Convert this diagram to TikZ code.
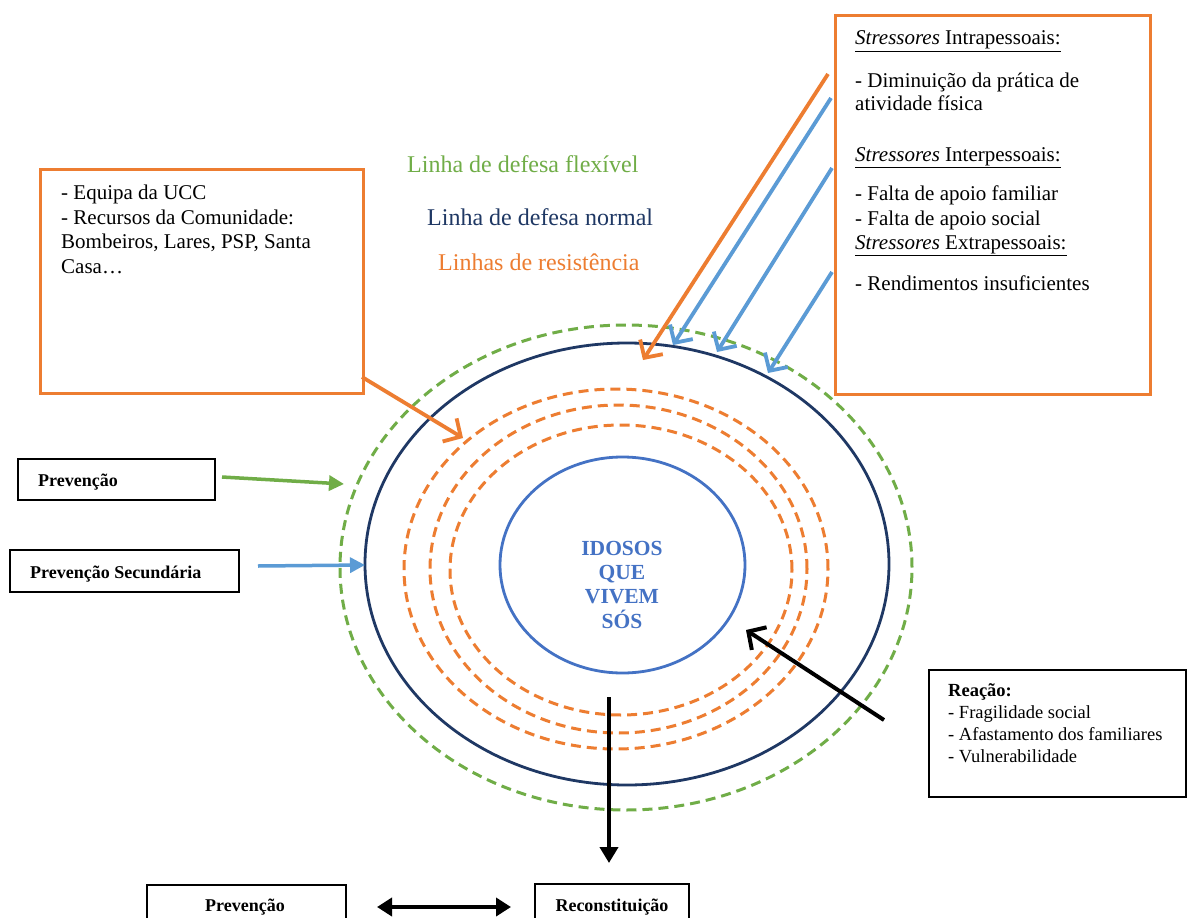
\documentclass[tikz,border=0pt]{standalone}
\usepackage{fontspec}
\setmainfont{Liberation Serif}
\usetikzlibrary{arrows.meta}
\definecolor{cgreen}{HTML}{70AD47}
\definecolor{cnavy}{HTML}{1F3864}
\definecolor{corange}{HTML}{ED7D31}
\definecolor{cblue}{HTML}{5B9BD5}
\definecolor{cinner}{HTML}{4472C4}
\tikzset{
  txt/.style={inner sep=0pt, anchor=base west, font=\fontsize{21}{24}\selectfont},
  head/.style={inner sep=0pt, anchor=base west, font=\fontsize{24}{28}\selectfont},
  lbl/.style={inner sep=0pt, anchor=base west, font=\fontsize{18}{21}\selectfont\bfseries},
  rea/.style={inner sep=0pt, anchor=base west, font=\fontsize{18.5}{21}\selectfont},
  core/.style={inner sep=0pt, anchor=base, text=cinner, font=\fontsize{21.5}{24}\selectfont\bfseries},
  obox/.style={draw=corange, line width=3pt, inner sep=0pt, anchor=north west},
  kbox/.style={draw=black, line width=1.6pt, inner sep=0pt, anchor=north west},
  ring/.style={line width=3pt, dash pattern=on 10pt off 6pt},
  barb/.style={line width=3.8pt, -{Straight Barb[length=13pt,width=27pt]}},
  tri/.style={line width=3.5pt, -{Triangle[length=15pt,width=15pt]}},
}
\begin{document}
\begin{tikzpicture}[x=1pt,y=-1pt]
\clip (0,0) rectangle (1187,918);
\useasboundingbox (0,0) rectangle (1187,918);
\fill[white] (0,0) rectangle (1187,918);

% rings
\draw[ring, cgreen] (626,567.5) ellipse [x radius=286pt, y radius=242.5pt];
\draw[line width=2.8pt, cnavy] (627,564) ellipse [x radius=262pt, y radius=221pt];
\draw[ring, corange] (616,569) ellipse [x radius=212pt, y radius=180pt];
\draw[ring, corange] (618.5,569) ellipse [x radius=188.5pt, y radius=164pt];
\draw[ring, corange] (621,570) ellipse [x radius=171pt, y radius=145pt];
\draw[line width=2.8pt, cinner] (622.5,565) ellipse [x radius=122.5pt, y radius=108pt];

% core text
\node[core] (c1) at (622,555) {IDOSOS};
\node[core] (c2) at (622,579) {QUE};
\node[core] (c3) at (622,603) {VIVEM};
\node[core] (c4) at (622,628) {SÓS};

% headings
\node[head, text=cgreen] (h1) at (407,172) {Linha de defesa flexível};
\node[head, text=cnavy] (h2) at (427,225) {Linha de defesa normal};
\node[head, text=corange] (h3) at (438,270) {Linhas de resistência};

% right stressor box
\node[obox, minimum width=315pt, minimum height=379pt] (rbox) at (834,14) {};
\node[txt] (r1) at (855,45) {\underline{\textit{Stressores} Intrapessoais:}};
\node[txt] (r2) at (855,87) {- Diminuição da prática de};
\node[txt] (r3) at (855,110) {atividade física};
\node[txt] (r4) at (855,161) {\underline{\textit{Stressores} Interpessoais:}};
\node[txt] (r5) at (855,200) {- Falta de apoio familiar};
\node[txt] (r6) at (855,225) {- Falta de apoio social};
\node[txt] (r7) at (855,249) {\underline{\textit{Stressores} Extrapessoais:}};
\node[txt] (r8) at (855,290) {- Rendimentos insuficientes};

% left resources box
\node[obox, minimum width=323pt, minimum height=224pt] (lbox) at (39,168) {};
\node[txt] (l1) at (61,199) {- Equipa da UCC};
\node[txt] (l2) at (61,224) {- Recursos da Comunidade:};
\node[txt] (l3) at (61,248) {Bombeiros, Lares, PSP, Santa};
\node[txt] (l4) at (61,273) {Casa…};

% prevention boxes
\node[kbox, minimum width=197pt, minimum height=41pt] (p1box) at (17,458) {};
\node[lbl] (p1) at (38,486) {Prevenção};
\node[kbox, minimum width=229pt, minimum height=42pt] (p2box) at (9,549) {};
\node[lbl] (p2) at (30,578) {Prevenção Secundária};

% reaction box
\node[kbox, minimum width=257pt, minimum height=127pt] (reabox) at (928,669) {};
\node[rea, font=\fontsize{18.5}{21}\selectfont\bfseries] (ra) at (948,696) {Reação:};
\node[rea] (rb) at (948,718) {- Fragilidade social};
\node[rea] (rc) at (948,740) {- Afastamento dos familiares};
\node[rea] (rd) at (948,762) {- Vulnerabilidade};

% bottom boxes
\node[kbox, minimum width=199pt, minimum height=50pt] (pbbox) at (146,884) {};
\node[lbl, anchor=base] (pb) at (245,911) {Prevenção};
\node[kbox, minimum width=154pt, minimum height=50pt] (rcbox) at (534,883) {};
\node[lbl, anchor=base] (rcn) at (612,911) {Reconstituição};

% arrow coordinates
\coordinate (oS) at (828,74);   \coordinate (oE) at (643,360);
\coordinate (b1S) at (831,98);  \coordinate (b1E) at (673,345);
\coordinate (b2S) at (832,168); \coordinate (b2E) at (717,352);
\coordinate (b3S) at (832,272); \coordinate (b3E) at (768,373);
\coordinate (lS) at (362,377);  \coordinate (lE) at (463,438);
\coordinate (gS) at (222,477);  \coordinate (gE) at (344,484);
\coordinate (hS) at (258,566);  \coordinate (hE) at (365,565);
\coordinate (kS) at (884,720);  \coordinate (kE) at (746,630);
\coordinate (dS) at (609,697);  \coordinate (dE) at (609,863);
\coordinate (eL) at (377,907);  \coordinate (eR) at (511,907);

\draw[barb, corange] (oS) -- (oE);
\draw[barb, cblue] (b1S) -- (b1E);
\draw[barb, cblue] (b2S) -- (b2E);
\draw[barb, cblue] (b3S) -- (b3E);
\draw[barb, corange] (lS) -- (lE);
\draw[tri, cgreen] (gS) -- (gE);
\draw[tri, cblue] (hS) -- (hE);
\draw[line width=4pt, -{Straight Barb[length=13pt,width=27pt]}] (kS) -- (kE);
\draw[line width=4pt, -{Triangle[length=16pt,width=18pt]}] (dS) -- (dE);
\draw[line width=4.5pt, {Triangle[length=15pt,width=18pt]}-{Triangle[length=15pt,width=18pt]}] (eL) -- (eR);
\end{tikzpicture}
\end{document}
